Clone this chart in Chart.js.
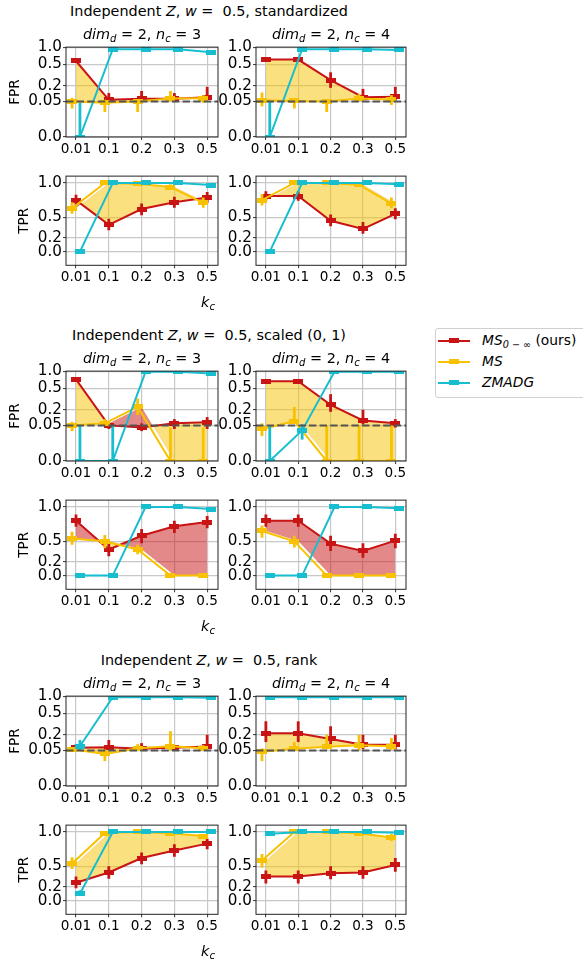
<!DOCTYPE html>
<html>
<head>
<meta charset="utf-8">
<script src="https://cdn.jsdelivr.net/npm/chart.js@4.4.1/dist/chart.umd.min.js"></script>
<style>
  body { margin: 0; background: #fff; font-family: "DejaVu Sans", sans-serif; }
  #fig { position: relative; width: 583px; height: 965px; overflow: hidden; }
  canvas { position: absolute; }
  .t { position: absolute; font-size: 13.3px; white-space: pre; transform: translate(-50%, -50%); color: #000; line-height: 1; }
  .t.big { font-size: 14.4px; }
  .t sub, .leg sub { font-size: 70%; vertical-align: -0.3em; line-height: 0; }
  .leg { position: absolute; left: 435px; top: 328px; width: 170px; height: 68px; border: 1px solid #d0d0d0; border-radius: 3px; font-size: 13.8px; }
  .row { position: absolute; left: 2px; height: 14px; }
  .row .ln { position: absolute; left: 0; top: 6px; width: 32px; height: 2px; }
  .row .mk { position: absolute; left: 11px; top: 4px; width: 10px; height: 5px; }
  .row .lb { position: absolute; left: 44px; top: -2px; white-space: nowrap; }
</style>
</head>
<body>
<div id="fig"></div>
<script>
// x categories (k_c) and y ticks
const KC = ['0.01', '0.1', '0.2', '0.3', '0.5'];
const FPR_TICKS = [0, 0.05, 0.2, 0.5, 1.0];
const FPR_TICK_LABELS = ['0.0', '0.05', '0.2', '0.5', '1.0'];
const TPR_TICKS = [0, 0.2, 0.5, 1.0];
const TPR_TICK_LABELS = ['0.0', '0.2', '0.5', '1.0'];
const ALPHA = 0.05;

// --- standardized ---
const std_fpr3_ours = [0.60, 0.065, 0.075, 0.075, 0.09];
const std_fpr3_ours_ci = [[0.55, 0.66], [0.05, 0.13], [0.05, 0.15], [0.049, 0.13], [0.065, 0.19]];
const std_fpr3_ms = [0.05, 0.048, 0.05, 0.078, 0.08];
const std_fpr3_ms_ci = [[0.04, 0.085], [0.035, 0.065], [0.035, 0.065], [0.05, 0.15], [0.048, 0.11]];
const std_fpr3_zm = [0, 0.94, 0.94, 0.94, 0.85];
const std_fpr3_zm_ci = [[0, 0.048], null, null, null, null];

const std_fpr4_ours = [0.64, 0.64, 0.28, 0.09, 0.095];
const std_fpr4_ours_ci = [[0.6, 0.68], [0.6, 0.68], [0.18, 0.39], [0.06, 0.17], [0.06, 0.19]];
const std_fpr4_ms = [0.062, 0.055, 0.05, 0.078, 0.066];
const std_fpr4_ms_ci = [[0.043, 0.135], [0.04, 0.08], [0.035, 0.07], [0.05, 0.12], [0.045, 0.11]];
const std_fpr4_zm = [0, 0.94, 0.94, 0.94, 0.92];
const std_fpr4_zm_ci = [[0, 0.05], null, null, null, null];

const std_tpr3_ours = [0.75, 0.39, 0.62, 0.72, 0.79];
const std_tpr3_ours_ci = [[0.67, 0.83], [0.31, 0.48], [0.53, 0.70], [0.64, 0.80], [0.71, 0.87]];
const std_tpr3_ms = [0.63, 1.0, 0.99, 0.94, 0.71];
const std_tpr3_ms_ci = [[0.55, 0.72], null, null, [0.9, 0.98], [0.64, 0.79]];
const std_tpr3_zm = [0, 1.0, 1.0, 1.0, 0.97];

const std_tpr4_ours = [0.81, 0.81, 0.45, 0.33, 0.55];
const std_tpr4_ours_ci = [[0.74, 0.88], [0.74, 0.88], [0.37, 0.54], [0.26, 0.43], [0.47, 0.63]];
const std_tpr4_ms = [0.75, 1.0, 1.0, 0.975, 0.70];
const std_tpr4_ms_ci = [[0.67, 0.84], null, null, [0.95, 1.0], [0.63, 0.79]];
const std_tpr4_zm = [0, 1.0, 1.0, 1.0, 0.98];

// --- scaled (0, 1) ---
const sc_fpr3_ours = [0.76, 0.05, 0.047, 0.07, 0.08];
const sc_fpr3_ours_ci = [[0.72, 0.8], [0.045, 0.058], [0.042, 0.07], [0.045, 0.11], [0.045, 0.13]];
const sc_fpr3_ms = [0.05, 0.07, 0.24, 0, 0];
const sc_fpr3_ms_ci = [[0.042, 0.085], [0.05, 0.11], [0.15, 0.36], [0, 0.047], [0, 0.047]];
const sc_fpr3_zm = [0, 0, 0.98, 0.98, 0.93];
const sc_fpr3_zm_ci = [[0, 0.05], [0, 0.05], null, null, null];

const sc_fpr4_ours = [0.71, 0.71, 0.27, 0.098, 0.07];
const sc_fpr4_ours_ci = [[0.67, 0.75], [0.67, 0.75], [0.18, 0.42], [0.06, 0.2], [0.047, 0.11]];
const sc_fpr4_ms = [0.045, 0.09, 0, 0, 0];
const sc_fpr4_ms_ci = [[0.035, 0.07], [0.075, 0.24], [0, 0.05], [0, 0.05], [0, 0.05]];
const sc_fpr4_zm = [0, 0.043, 0.98, 0.98, 0.98];
const sc_fpr4_zm_ci = [[0, 0.05], [0.03, 0.06], null, null, null];

const sc_tpr3_ours = [0.80, 0.38, 0.58, 0.72, 0.78];
const sc_tpr3_ours_ci = [[0.71, 0.89], [0.28, 0.48], [0.47, 0.68], [0.62, 0.80], [0.69, 0.87]];
const sc_tpr3_ms = [0.54, 0.50, 0.38, 0, 0];
const sc_tpr3_ms_ci = [[0.45, 0.64], [0.40, 0.59], [0.31, 0.45], null, null];
const sc_tpr3_zm = [0, 0, 1.0, 1.0, 0.97];

const sc_tpr4_ours = [0.80, 0.80, 0.465, 0.36, 0.51];
const sc_tpr4_ours_ci = [[0.71, 0.89], [0.71, 0.89], [0.36, 0.58], [0.26, 0.47], [0.40, 0.61]];
const sc_tpr4_ms = [0.65, 0.50, 0, 0, 0];
const sc_tpr4_ms_ci = [[0.55, 0.73], [0.41, 0.58], null, null, null];
const sc_tpr4_zm = [0, 0, 1.0, 1.0, 0.98];

// --- rank ---
const rk_fpr3_ours = [0.075, 0.08, 0.066, 0.075, 0.088];
const rk_fpr3_ours_ci = [[0.06, 0.11], [0.06, 0.15], [0.05, 0.12], [0.055, 0.1], [0.065, 0.2]];
const rk_fpr3_ms = [0.06, 0.045, 0.07, 0.09, 0.07];
const rk_fpr3_ms_ci = [[0.05, 0.08], [0.035, 0.06], [0.05, 0.11], [0.05, 0.25], [0.05, 0.1]];
const rk_fpr3_zm = [0.09, 0.97, 0.97, 0.97, 0.95];
const rk_fpr3_zm_ci = [[0.05, 0.15], null, null, null, null];

const rk_fpr4_ours = [0.22, 0.22, 0.16, 0.105, 0.105];
const rk_fpr4_ours_ci = [[0.13, 0.39], [0.13, 0.39], [0.08, 0.32], [0.06, 0.2], [0.06, 0.2]];
const rk_fpr4_ms = [0.048, 0.065, 0.085, 0.1, 0.09];
const rk_fpr4_ms_ci = [[0.035, 0.07], [0.05, 0.13], [0.06, 0.2], [0.05, 0.2], [0.055, 0.17]];
const rk_fpr4_zm = [0.97, 0.97, 0.97, 0.97, 0.97];

const rk_tpr3_ours = [0.26, 0.41, 0.62, 0.73, 0.83];
const rk_tpr3_ours_ci = [[0.18, 0.35], [0.32, 0.5], [0.53, 0.7], [0.64, 0.82], [0.75, 0.9]];
const rk_tpr3_ms = [0.54, 0.985, 1.0, 0.98, 0.94];
const rk_tpr3_ms_ci = [[0.46, 0.63], null, null, null, [0.9, 0.97]];
const rk_tpr3_zm = [0.10, 1.0, 1.0, 1.0, 1.0];
const rk_tpr3_zm_ci = [[0.07, 0.15], null, null, null, null];

const rk_tpr4_ours = [0.35, 0.35, 0.40, 0.41, 0.52];
const rk_tpr4_ours_ci = [[0.25, 0.44], [0.25, 0.44], [0.31, 0.5], [0.32, 0.5], [0.42, 0.62]];
const rk_tpr4_ms = [0.585, 1.0, 1.0, 0.98, 0.92];
const rk_tpr4_ms_ci = [[0.48, 0.68], null, null, null, [0.87, 0.97]];
const rk_tpr4_zm = [0.975, 1.0, 1.0, 1.0, 0.99];

const GROUP_TITLES = ['standardized', 'scaled (0, 1)', 'rank'];

// ---------------------------------------------------------------
const RED = '#c81414', GOLD = '#f8c200', CYAN = '#17becf';
const RED_FILL = 'rgba(200,20,20,0.5)', GOLD_FILL = 'rgba(248,194,0,0.5)';
const OFFSET = { ours: 0, ms: -0.12, zm: 0.12 };

// FPR axis is stretched near zero; where each tick sits (0..1 of the axis height)
const FPR_POS = [0, 0.396, 0.570, 0.807, 1];
function fprWarp(v) {
  if (v <= 0) return 0;
  for (let i = 1; i < FPR_TICKS.length; i++) {
    if (v <= FPR_TICKS[i]) {
      const t = (v - FPR_TICKS[i - 1]) / (FPR_TICKS[i] - FPR_TICKS[i - 1]);
      return FPR_POS[i - 1] + t * (FPR_POS[i] - FPR_POS[i - 1]);
    }
  }
  return 1;
}
function fprUnwarp(d) {
  for (let i = 1; i < FPR_POS.length; i++) {
    if (d <= FPR_POS[i]) {
      const t = (d - FPR_POS[i - 1]) / (FPR_POS[i] - FPR_POS[i - 1]);
      return FPR_TICKS[i - 1] + t * (FPR_TICKS[i] - FPR_TICKS[i - 1]);
    }
  }
  return 1;
}

class FprScale extends Chart.LinearScale {
  getPixelForValue(v) { return v == null ? NaN : this.getPixelForDecimal(fprWarp(v)); }
  getValueForPixel(p) { return fprUnwarp(this.getDecimalForPixel(p)); }
}
FprScale.id = 'fpr';
FprScale.defaults = Chart.LinearScale.defaults;
Chart.register(FprScale);

Chart.defaults.font.family = '"DejaVu Sans", sans-serif';
Chart.defaults.color = '#000';

function markerImg(color) {
  const c = document.createElement('canvas');
  c.width = 10; c.height = 5;
  const ctx = c.getContext('2d');
  ctx.fillStyle = color;
  ctx.fillRect(0, 0, 10, 5);
  return c;
}
const MARK = { ours: markerImg(RED), ms: markerImg(GOLD), zm: markerImg(CYAN) };

// vertical error bars under each series
const errorBars = {
  id: 'errorBars',
  beforeDatasetDraw(chart, args) {
    const ds = chart.data.datasets[args.index];
    if (!ds.ci) return;
    const y = chart.scales.y, a = chart.chartArea, ctx = chart.ctx;
    ctx.save();
    ctx.beginPath();
    ctx.rect(a.left, a.top, a.right - a.left, a.bottom - a.top);
    ctx.clip();
    ctx.strokeStyle = ds.borderColor;
    ctx.lineWidth = 2.8;
    args.meta.data.forEach((pt, i) => {
      const ci = ds.ci[i];
      if (!ci) return;
      ctx.beginPath();
      ctx.moveTo(pt.x, y.getPixelForValue(ci[0]));
      ctx.lineTo(pt.x, y.getPixelForValue(ci[1]));
      ctx.stroke();
    });
    ctx.restore();
  }
};

// dashed alpha level + axes frame
const frame = {
  id: 'frame',
  afterDatasetsDraw(chart, args, opts) {
    const { ctx, chartArea: a } = chart;
    ctx.save();
    if (opts.alpha) {
      const yy = chart.scales.y.getPixelForValue(ALPHA);
      ctx.strokeStyle = '#555';
      ctx.lineWidth = 2;
      ctx.setLineDash([7.4, 3.2]);
      ctx.beginPath();
      ctx.moveTo(a.left, yy);
      ctx.lineTo(a.right, yy);
      ctx.stroke();
      ctx.setLineDash([]);
    }
    ctx.strokeStyle = '#222';
    ctx.lineWidth = 1;
    ctx.strokeRect(a.left, a.top, a.right - a.left, a.bottom - a.top);
    ctx.restore();
  }
};

const fig = document.getElementById('fig');
const PLOT_X = [[66, 218], [256, 406]];
const PLOT_Y = { fpr: [45.3, 137], tpr: [174, 265.3] };
const GROUP_DY = [0, 324, 649];
const X_AXIS_H = 22;

const pts = (vals, off) => vals.map((v, i) => ({ x: i + off, y: v }));

function series(key, vals, ci, color) {
  return {
    data: pts(vals, OFFSET[key]),
    ci: ci || null,
    borderColor: color,
    backgroundColor: color,
    borderWidth: 2,
    pointStyle: MARK[key],
    pointRadius: 3,
    tension: 0,
    fill: false
  };
}

function makePanel(g, metric, col, p) {
  const dy = GROUP_DY[g];
  const [pl, pr] = PLOT_X[col];
  const [ptTop, ptBot] = PLOT_Y[metric];
  const top = ptTop + dy, bot = ptBot + dy;
  const x0 = col === 0 ? 0 : 212;
  const y0 = Math.floor(top) - 8;
  const w = pr + 8 - x0;
  const h = Math.ceil(bot + X_AXIS_H + 2 - y0);
  const cv = document.createElement('canvas');
  cv.width = w; cv.height = h;
  cv.style.left = x0 + 'px'; cv.style.top = y0 + 'px';
  cv.style.width = w + 'px'; cv.style.height = h + 'px';
  fig.appendChild(cv);

  const isF = metric === 'fpr';
  const ours = series('ours', p.ours, p.oursCi, RED);
  ours.order = 3;
  ours.fill = isF ? { target: 4, above: GOLD_FILL, below: RED_FILL }
                  : { target: 4, above: RED_FILL, below: GOLD_FILL };
  const ms = series('ms', p.ms, p.msCi, GOLD); ms.order = 2;
  const zm = series('zm', p.zm, p.zmCi, CYAN); zm.order = 1;
  // MS values at the exact k_c positions, only used as the fill boundary
  const msEdge = { data: pts(p.ms, 0), borderWidth: 0, borderColor: 'rgba(0,0,0,0)', pointRadius: 0, fill: false, order: 5 };

  const ticks = isF ? FPR_TICKS : TPR_TICKS;
  const labels = isF ? FPR_TICK_LABELS : TPR_TICK_LABELS;

  new Chart(cv, {
    type: 'line',
    data: { datasets: [ours, ms, zm, { data: [], order: 6 }, msEdge] },
    options: {
      responsive: false,
      animation: false,
      layout: { padding: { left: 0, right: 8, top: top - y0, bottom: h - X_AXIS_H - (bot - y0) } },
      plugins: { legend: { display: false }, tooltip: { enabled: false }, frame: { alpha: isF } },
      scales: {
        x: {
          type: 'linear', min: -0.305, max: 4.33,
          afterBuildTicks: s => { s.ticks = KC.map((_, i) => ({ value: i })); },
          afterFit: s => { s.height = X_AXIS_H; },
          ticks: { callback: v => KC[Math.round(v)], font: { size: 13.6 }, padding: 1, maxRotation: 0, autoSkip: false },
          grid: { color: '#c8c8c8', lineWidth: 1.2, tickLength: 3, tickColor: '#333', tickWidth: 1 },
          border: { display: false }
        },
        y: {
          type: isF ? 'fpr' : 'linear',
          min: isF ? 0 : -0.2, max: isF ? 1 : 1.1,
          afterBuildTicks: s => { s.ticks = ticks.map(v => ({ value: v })); },
          afterFit: s => { s.width = pl - x0; },
          ticks: { callback: v => labels[ticks.indexOf(v)], font: { size: 15.2 }, padding: 1, autoSkip: false },
          grid: { color: '#c8c8c8', lineWidth: 1.2, tickLength: 3, tickColor: '#333', tickWidth: 1 },
          border: { display: false },
          title: {
            display: col === 0, text: isF ? 'FPR' : 'TPR', font: { size: 13.6 },
            padding: { top: isF ? 7 : 16, bottom: 0 }
          }
        }
      }
    },
    plugins: [errorBars, frame]
  });
}

const PANELS = [
  [0, 'fpr', 0, { ours: std_fpr3_ours, oursCi: std_fpr3_ours_ci, ms: std_fpr3_ms, msCi: std_fpr3_ms_ci, zm: std_fpr3_zm, zmCi: std_fpr3_zm_ci }],
  [0, 'fpr', 1, { ours: std_fpr4_ours, oursCi: std_fpr4_ours_ci, ms: std_fpr4_ms, msCi: std_fpr4_ms_ci, zm: std_fpr4_zm, zmCi: std_fpr4_zm_ci }],
  [0, 'tpr', 0, { ours: std_tpr3_ours, oursCi: std_tpr3_ours_ci, ms: std_tpr3_ms, msCi: std_tpr3_ms_ci, zm: std_tpr3_zm }],
  [0, 'tpr', 1, { ours: std_tpr4_ours, oursCi: std_tpr4_ours_ci, ms: std_tpr4_ms, msCi: std_tpr4_ms_ci, zm: std_tpr4_zm }],
  [1, 'fpr', 0, { ours: sc_fpr3_ours, oursCi: sc_fpr3_ours_ci, ms: sc_fpr3_ms, msCi: sc_fpr3_ms_ci, zm: sc_fpr3_zm, zmCi: sc_fpr3_zm_ci }],
  [1, 'fpr', 1, { ours: sc_fpr4_ours, oursCi: sc_fpr4_ours_ci, ms: sc_fpr4_ms, msCi: sc_fpr4_ms_ci, zm: sc_fpr4_zm, zmCi: sc_fpr4_zm_ci }],
  [1, 'tpr', 0, { ours: sc_tpr3_ours, oursCi: sc_tpr3_ours_ci, ms: sc_tpr3_ms, msCi: sc_tpr3_ms_ci, zm: sc_tpr3_zm }],
  [1, 'tpr', 1, { ours: sc_tpr4_ours, oursCi: sc_tpr4_ours_ci, ms: sc_tpr4_ms, msCi: sc_tpr4_ms_ci, zm: sc_tpr4_zm }],
  [2, 'fpr', 0, { ours: rk_fpr3_ours, oursCi: rk_fpr3_ours_ci, ms: rk_fpr3_ms, msCi: rk_fpr3_ms_ci, zm: rk_fpr3_zm, zmCi: rk_fpr3_zm_ci }],
  [2, 'fpr', 1, { ours: rk_fpr4_ours, oursCi: rk_fpr4_ours_ci, ms: rk_fpr4_ms, msCi: rk_fpr4_ms_ci, zm: rk_fpr4_zm }],
  [2, 'tpr', 0, { ours: rk_tpr3_ours, oursCi: rk_tpr3_ours_ci, ms: rk_tpr3_ms, msCi: rk_tpr3_ms_ci, zm: rk_tpr3_zm, zmCi: rk_tpr3_zm_ci }],
  [2, 'tpr', 1, { ours: rk_tpr4_ours, oursCi: rk_tpr4_ours_ci, ms: rk_tpr4_ms, msCi: rk_tpr4_ms_ci, zm: rk_tpr4_zm }]
];
PANELS.forEach(([g, m, c, p]) => makePanel(g, m, c, p));

// text: group titles, panel titles, x labels
function text(html, x, y, cls) {
  const el = document.createElement('div');
  el.className = 't' + (cls ? ' ' + cls : '');
  el.style.left = x + 'px';
  el.style.top = y + 'px';
  el.innerHTML = html;
  fig.appendChild(el);
}
const SUB_N = [3, 4];
GROUP_TITLES.forEach((name, g) => {
  const dy = GROUP_DY[g];
  text('Independent <i>Z</i>, <i>w</i> =  0.5, ' + name, 209, 11 + dy, 'big');
  SUB_N.forEach((n, c) => {
    const cx = (PLOT_X[c][0] + PLOT_X[c][1]) / 2;
    text('<i>dim</i><sub><i>d</i></sub> = 2, <i>n</i><sub><i>c</i></sub> = ' + n, cx, 34 + dy, 'big');
  });
  text('<i>k</i><sub><i>c</i></sub>', 208, 302 + dy, 'big');
});

// legend
const LEGEND = [
  ['<i>MS</i><sub><i>0 − ∞</i></sub> (ours)', RED],
  ['<i>MS</i>', GOLD],
  ['<i>ZMADG</i>', CYAN]
];
const leg = document.createElement('div');
leg.className = 'leg';
LEGEND.forEach(([label, color], i) => {
  const r = document.createElement('div');
  r.className = 'row';
  r.style.top = (5 + i * 21) + 'px';
  r.innerHTML = '<div class="ln" style="background:' + color + '"></div>' +
    '<div class="mk" style="background:' + color + '"></div>' +
    '<div class="lb">' + label + '</div>';
  leg.appendChild(r);
});
fig.appendChild(leg);
</script>
</body>
</html>
